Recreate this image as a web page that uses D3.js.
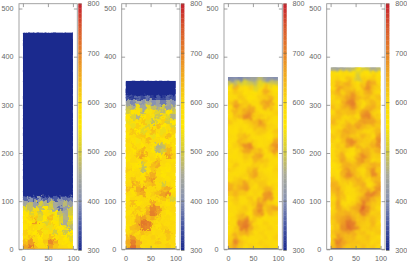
<!DOCTYPE html>
<html>
<head>
<meta charset="utf-8">
<script src="https://cdnjs.cloudflare.com/ajax/libs/d3/7.8.5/d3.min.js"></script>
<style>
  html, body { margin: 0; padding: 0; background: #fff; }
  svg { display: block; }
  text { font-family: "Liberation Sans", sans-serif; font-size: 7.2px; fill: #666; }
</style>
</head>
<body>
<div id="chart"></div>
<script>
const yTicks = [0, 100, 200, 300, 400, 500]
const xTicks = [0, 50, 100]
const colorTicks = [300, 400, 500, 600, 700, 800]
const colorDomain = [300, 350, 400, 450, 500, 550, 600, 650, 700, 750, 800]
const colorRange = ["#1b2a8e", "#4a5aa4", "#8791b2", "#a9aa98", "#d6cc3c", "#ffe600", "#fbd80c", "#f2ad1e", "#e5802a", "#d8572c", "#c41f2f"]

// solid layer above the grid: [from, to, temperature]
const layers = [[110, 450, 300], [320, 350, 300], null, null]
const surfaces = [450, 350, 358, 378]

// rows run top to bottom, each row is 10 units high and ends at y = 0
const grid1 = [
  [360,400,350,410,360,390,350,400,370,380],
  [440,480,430,500,460,490,450,430,470,430],
  [520,480,530,470,550,500,450,370,420,490],
  [560,510,590,500,580,530,550,480,450,500],
  [550,600,620,520,550,630,540,510,460,530],
  [590,550,670,570,510,610,560,520,450,500],
  [560,600,590,540,600,530,590,550,530,470],
  [610,570,550,620,540,590,500,570,490,550],
  [590,620,590,550,600,630,570,590,550,520],
  [630,670,600,570,620,690,650,580,560,580],
  [660,710,630,590,590,660,620,600,590,560]
]
const grid2 = [
  [340,320,360,330,370,320,350,330,360,340],
  [430,390,450,410,460,400,430,380,440,400],
  [480,450,530,440,520,480,440,500,430,470],
  [500,560,570,470,540,600,510,470,560,500],
  [560,510,460,560,600,540,490,580,510,460],
  [530,580,570,620,530,480,570,610,500,550],
  [570,530,610,570,510,580,630,550,590,510],
  [590,620,550,520,600,630,590,530,570,610],
  [560,590,610,620,570,530,560,600,630,560],
  [600,570,540,590,630,590,600,560,560,590],
  [580,610,590,560,600,570,460,480,610,570],
  [590,560,610,640,590,560,470,500,640,590],
  [570,590,630,660,600,590,550,590,660,610],
  [560,600,590,610,570,600,620,600,590,570],
  [590,570,560,490,590,630,650,590,570,600],
  [610,560,590,480,570,620,600,570,560,590],
  [580,590,600,560,620,650,590,560,590,570],
  [590,620,590,570,640,670,600,590,570,590],
  [600,650,630,600,620,640,590,500,600,570],
  [630,600,650,670,600,600,600,630,650,560],
  [590,570,630,650,590,610,630,660,680,600],
  [570,600,590,600,590,600,590,620,600,510],
  [590,630,570,590,600,650,610,590,570,590],
  [600,590,620,600,630,690,670,610,590,600],
  [570,620,600,590,650,700,660,600,570,590],
  [600,590,640,660,630,650,610,590,600,570],
  [590,600,650,710,700,610,590,600,590,600],
  [570,630,640,700,690,600,580,610,600,590],
  [600,620,600,630,610,590,600,590,630,600],
  [630,670,610,590,600,610,590,600,620,590],
  [650,700,650,600,590,600,620,590,590,600],
  [640,720,660,590,600,590,600,600,610,590]
]
const grid3 = [
  [390,400,390,410,420,430,470,420,410,400],
  [480,470,500,510,490,480,520,500,490,480],
  [580,640,600,590,610,510,590,630,600,570],
  [600,620,610,580,590,560,600,650,610,590],
  [590,600,620,600,570,590,610,620,640,600],
  [610,650,600,620,590,600,620,670,660,590],
  [590,670,630,610,650,590,600,650,640,600],
  [600,640,620,660,670,620,590,600,590,610],
  [590,620,640,690,680,610,620,590,610,590],
  [620,600,590,610,620,640,680,620,600,590],
  [600,590,600,590,610,630,650,640,610,600],
  [590,580,610,600,590,610,620,610,590,620],
  [600,590,620,640,600,590,600,590,580,610],
  [590,600,640,620,610,600,590,600,590,650],
  [580,610,630,680,690,610,590,600,640,680],
  [600,590,610,660,660,620,640,590,620,670],
  [590,580,600,620,610,650,660,600,590,610],
  [600,600,590,610,600,640,630,620,600,590],
  [590,620,600,590,600,610,600,610,590,600],
  [610,600,590,600,620,650,600,590,580,610],
  [600,590,600,610,640,660,610,600,590,600],
  [590,610,620,600,620,620,600,610,600,590],
  [640,620,640,660,610,600,620,620,590,600],
  [650,630,650,670,620,590,610,650,640,590],
  [620,640,620,610,600,610,600,670,680,600],
  [600,620,600,590,620,600,640,680,660,590],
  [590,610,590,600,610,620,670,640,610,600],
  [600,590,610,620,600,640,690,620,640,660],
  [590,600,620,610,590,650,680,600,630,610],
  [580,610,640,670,600,620,600,590,600,590],
  [600,600,680,700,650,600,590,610,590,600],
  [590,610,690,710,660,610,600,600,610,590],
  [600,620,640,650,620,590,610,590,600,600],
  [610,650,610,600,590,600,600,610,590,610],
  [620,690,630,610,600,590,610,600,600,590],
  [630,660,620,600,610,600,590,610,600,600]
]
const grid4 = [
  [450,440,450,460,470,540,500,480,450,470],
  [590,570,600,590,580,510,590,570,590,580],
  [600,610,590,620,600,490,610,600,620,590],
  [610,640,620,650,610,560,620,670,650,600],
  [590,670,640,630,620,600,640,680,630,610],
  [620,650,610,640,660,620,610,650,620,600],
  [600,620,630,660,680,640,620,640,610,630],
  [610,600,650,690,700,620,590,620,640,610],
  [630,610,640,660,680,630,600,640,650,620],
  [600,640,620,630,640,610,660,690,620,600],
  [620,630,610,600,620,600,680,700,640,610],
  [640,610,600,630,610,650,670,660,660,630],
  [610,600,620,650,640,670,640,620,630,620],
  [600,620,650,660,640,630,610,600,610,640],
  [620,610,640,640,620,610,640,620,600,670],
  [610,600,630,680,690,630,620,610,630,690],
  [600,620,610,660,680,640,610,620,650,680],
  [590,610,620,600,590,620,650,640,620,650],
  [600,630,650,590,580,640,690,650,610,620],
  [590,620,660,620,600,660,680,630,600,610],
  [580,600,640,650,630,640,620,620,650,640],
  [590,580,650,680,640,610,600,640,680,620],
  [600,590,640,690,650,620,600,620,690,630],
  [630,600,620,640,630,650,620,590,630,640],
  [650,640,610,600,620,640,650,590,610,660],
  [640,660,610,590,600,620,640,640,620,680],
  [620,650,630,590,600,610,630,690,700,650],
  [600,640,620,580,590,620,660,680,650,620],
  [610,660,600,590,610,640,700,650,620,610],
  [600,650,620,610,640,660,730,670,630,600],
  [610,640,640,650,630,650,690,640,610,620],
  [620,650,660,680,650,620,640,620,630,610],
  [610,640,670,710,690,630,620,610,640,600],
  [600,630,680,720,700,640,610,620,630,610],
  [620,640,650,670,650,620,630,610,600,620],
  [610,670,640,630,640,610,620,630,610,600],
  [620,700,660,640,620,630,610,620,600,610],
  [640,680,640,620,630,610,630,610,620,600]
]
const grids = [grid1, grid2, grid3, grid4]

const width = 407
const height = 263
const panelLefts = [19, 121.7, 224, 326.7]
const frameWidth = 58.3
const barWidth = 3.4
const yRange = [249.3, 3.7]

const color = d3.scaleLinear().domain(colorDomain).range(colorRange)

const svg = d3.select("#chart").append("svg")
  .attr("width", width)
  .attr("height", height)
  .attr("viewBox", `0 0 ${width} ${height}`)

const defs = svg.append("defs")

// breaks up the square cells so the field reads as a grainy map
function addGrainFilter(id, scale, blur) {
  const f = defs.append("filter").attr("id", id)
    .attr("x", "-10%").attr("y", "-10%").attr("width", "120%").attr("height", "120%")
    .attr("color-interpolation-filters", "sRGB")
  f.append("feTurbulence").attr("type", "fractalNoise").attr("baseFrequency", 0.3)
    .attr("numOctaves", 2).attr("seed", 4).attr("result", "noise")
  f.append("feDisplacementMap").attr("in", "SourceGraphic").attr("in2", "noise")
    .attr("scale", scale).attr("xChannelSelector", "R").attr("yChannelSelector", "G").attr("result", "moved")
  f.append("feGaussianBlur").attr("in", "moved").attr("stdDeviation", blur)
}
addGrainFilter("grain-coarse", 9, 1.1)
addGrainFilter("grain-fine", 8, 0.55)

const root = svg.append("g")

function drawCells(g, grid, layer, x, y, surface) {
  const rowCount = grid.length
  const cells = []
  grid.forEach((row, r) => {
    row.forEach((v, c) => {
      const y0 = (rowCount - 1 - r) * 10
      cells.push({ x0: c * 10, x1: c * 10 + 10, y0, y1: Math.min(y0 + 10, surface), v })
    })
  })
  if (layer) cells.push({ x0: 0, x1: 100, y0: layer[0], y1: layer[1], v: layer[2] })

  g.selectAll("rect")
    .data(cells)
    .enter()
    .append("rect")
    .attr("x", (d) => x(d.x0))
    .attr("width", (d) => x(d.x1) - x(d.x0) + 0.3)
    .attr("y", (d) => y(d.y1))
    .attr("height", (d) => y(d.y0) - y(d.y1) + 0.3)
    .attr("fill", (d) => color(d.v))
}

function drawPanel(i) {
  const left = panelLefts[i]
  const x = d3.scaleLinear().domain([0, 100]).range([left + 3.9, left + 53.9])
  const y = d3.scaleLinear().domain([0, 510]).range(yRange)
  const surface = surfaces[i]
  const panel = root.append("g")

  const clipId = `clip-${i}`
  defs.append("clipPath").attr("id", clipId).append("rect")
    .attr("x", x(0)).attr("width", x(100) - x(0))
    .attr("y", y(surface)).attr("height", y(0) - y(surface))

  const heat = panel.append("g").attr("clip-path", `url(#${clipId})`)
  drawCells(heat.append("g"), grids[i], layers[i], x, y, surface)
  drawCells(heat.append("g").attr("filter", i < 2 ? "url(#grain-fine)" : "url(#grain-coarse)"), grids[i], layers[i], x, y, surface)

  // thin cold line along the floor
  heat.append("rect")
    .attr("x", x(0)).attr("width", x(100) - x(0))
    .attr("y", y(2)).attr("height", y(0) - y(2))
    .attr("fill", color(i === 0 ? 640 : 330))

  // frame
  panel.append("rect")
    .attr("x", left).attr("y", yRange[1])
    .attr("width", frameWidth).attr("height", yRange[0] - yRange[1])
    .attr("fill", "none").attr("stroke", "#9a9a9a").attr("stroke-width", 0.9)

  const axisLeft = panel.append("g")
    .attr("transform", `translate(${left},0)`)
    .call(d3.axisLeft(y).tickValues(yTicks).tickSize(-3.4).tickPadding(5.5))
  const axisRight = panel.append("g")
    .attr("transform", `translate(${left + frameWidth},0)`)
    .call(d3.axisRight(y).tickValues(yTicks).tickSize(-3.4).tickFormat(""))
  const axisTop = panel.append("g")
    .attr("transform", `translate(0,${yRange[1]})`)
    .call(d3.axisTop(x).tickValues(xTicks).tickSize(-3.4).tickFormat(""))
  const axisBottom = panel.append("g")
    .attr("transform", `translate(0,${yRange[0]})`)
    .call(d3.axisBottom(x).tickValues(xTicks).tickSize(-3.4).tickPadding(6.5))

  ;[axisLeft, axisRight, axisTop, axisBottom].forEach((a) => {
    a.select(".domain").remove()
    a.selectAll("line").attr("stroke", "#777").attr("stroke-width", 0.7)
    a.selectAll("text").attr("fill", null).style("font-size", "7.2px").attr("font-family", null)
  })

  // color bar
  const barLeft = left + frameWidth + 1
  const colorY = d3.scaleLinear().domain([300, 800]).range([250, 3.5])
  panel.append("g").selectAll("rect")
    .data(d3.range(300, 800, 5))
    .enter()
    .append("rect")
    .attr("x", barLeft)
    .attr("width", barWidth)
    .attr("y", (d) => colorY(d + 5))
    .attr("height", (d) => colorY(d) - colorY(d + 5) + 0.3)
    .attr("fill", (d) => color(d))

  const colorAxis = panel.append("g")
    .attr("transform", `translate(${barLeft + barWidth},0)`)
    .call(d3.axisRight(colorY).tickValues(colorTicks).tickSize(-barWidth).tickPadding(5.8))
  colorAxis.select(".domain").remove()
  colorAxis.selectAll("line").attr("stroke", "#6a6a50").attr("stroke-width", 0.6)
  colorAxis.selectAll("text").attr("fill", null).style("font-size", "7.2px").attr("font-family", null)
}

grids.forEach((g, i) => drawPanel(i))
</script>
</body>
</html>
